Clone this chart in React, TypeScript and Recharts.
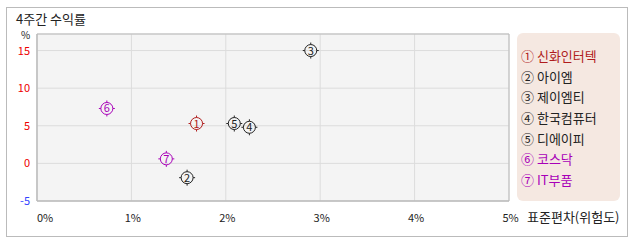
import React from 'react';
import { ScatterChart, Scatter, XAxis, YAxis, CartesianGrid, ReferenceArea } from 'recharts';

// 종목별 4주간 수익률 vs 표준편차
const names = ['신화인터텍', '아이엠', '제이엠티', '한국컴퓨터', '디에이피', '코스닥', 'IT부품'];
const marks = ['①', '②', '③', '④', '⑤', '⑥', '⑦'];
const risk = [1.69, 1.59, 2.9, 2.25, 2.09, 0.74, 1.37];
const returns = [5.3, -1.9, 15.0, 4.8, 5.3, 7.3, 0.6];
const xTicks = [0, 1, 2, 3, 4, 5];
const yTicks = [-5, 0, 5, 10, 15];

const colors = ['#b01c1c', '#222', '#222', '#222', '#222', '#a800b8', '#a800b8'];
const FONT = '"Noto Sans CJK KR", "DejaVu Sans", sans-serif';

const points = names.map((name, i) => ({ name, num: i + 1, x: risk[i], y: returns[i] }));

const Marker = (props: any) => {
    const { cx, cy, payload } = props;
    const c = colors[payload.num - 1];
    const r = 6;
    return (
        <g>
            <circle cx={cx} cy={cy} r={r} fill="none" stroke={c} strokeWidth={1} />
            <line x1={cx} y1={cy - r} x2={cx} y2={cy - r - 2} stroke={c} />
            <line x1={cx} y1={cy + r} x2={cx} y2={cy + r + 2} stroke={c} />
            <line x1={cx - r} y1={cy} x2={cx - r - 2} y2={cy} stroke={c} />
            <line x1={cx + r} y1={cy} x2={cx + r + 2} y2={cy} stroke={c} />
            <text x={cx} y={cy + 4} textAnchor="middle" fontSize={11} fill={c} fontFamily={FONT}>
                {payload.num}
            </text>
        </g>
    );
};

const YTick = (props: any) => {
    const { x, y, payload } = props;
    return (
        <text x={x + 1} y={y + 4} textAnchor="end" fontSize={11} fontFamily={FONT}
            fill={payload.value < 0 ? '#3344ff' : '#ee0000'}>
            {payload.value}
        </text>
    );
};

const XTick = (props: any) => {
    const { x, y, payload } = props;
    const first = payload.value === 0;
    return (
        <text x={first ? x : x + 1.5} y={y + 13} textAnchor={first ? 'start' : 'middle'} fontSize={11}
            fontFamily={FONT} fill="#222">
            {payload.value + '%'}
        </text>
    );
};

const LegendBox = () => (
    <div style={{
        position: 'absolute', left: 517, top: 33,
        width: 103, height: 168, background: '#f5e8e1', borderRadius: 6, boxSizing: 'border-box',
        paddingTop: 13, paddingLeft: 4, fontFamily: FONT, fontSize: 13,
    }}>
        {names.map((n, i) => (
            <div key={n} style={{ color: colors[i], height: 20.7, lineHeight: '20.7px', whiteSpace: 'nowrap' }}>
                {marks[i]} {n}
            </div>
        ))}
    </div>
);

const App = (): JSX.Element => {
    return (
        <div style={{ position: 'absolute', left: 0, top: 0, width: 638, height: 242, background: '#fff' }}>
            <div style={{
                position: 'absolute', left: 6, top: 7, width: 620, height: 228,
                border: '1px solid #bbb',
            }} />
            <div style={{ position: 'absolute', left: 0, top: 0 }}>
                <ScatterChart width={638} height={242} margin={{ top: 34, right: 129, bottom: 21, left: 7 }}>
                    <CartesianGrid fill="#f4f4f4" stroke="#dcdcdc" />
                    <XAxis type="number" dataKey="x" domain={[0, 5]} ticks={xTicks} height={20}
                        axisLine={{ stroke: '#bbb' }} tickLine={false} tick={<XTick />} interval={0} />
                    <YAxis type="number" dataKey="y" domain={[-5, 17.2]} ticks={yTicks} width={30}
                        axisLine={{ stroke: '#bbb' }} tickLine={false} tick={<YTick />} interval={0} />
                    <ReferenceArea x1={0} x2={5} y1={-5} y2={17.2} fill="none" stroke="#bbb" />
                    <Scatter data={points} shape={<Marker />} isAnimationActive={false} />
                </ScatterChart>
            </div>
            <div style={{ position: 'absolute', left: 16, top: 12, fontSize: 13, lineHeight: 1, fontFamily: FONT, color: '#222' }}>
                4주간 수익률
            </div>
            <div style={{ position: 'absolute', left: 21, top: 30, fontSize: 10, lineHeight: 1, fontFamily: FONT, color: '#222' }}>
                %
            </div>
            <div style={{ position: 'absolute', left: 527, top: 210, fontSize: 13, lineHeight: 1, fontFamily: FONT, color: '#222' }}>
                표준편차(위험도)
            </div>
            <LegendBox />
        </div>
    );
};

export default App;
